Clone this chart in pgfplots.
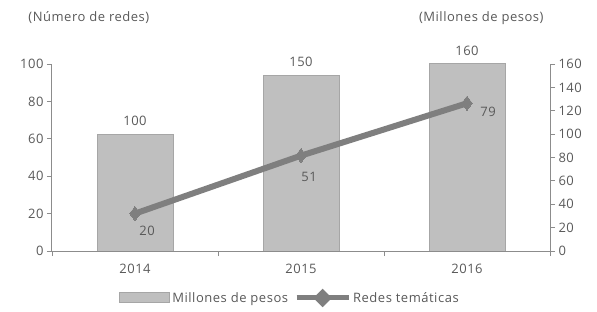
\documentclass[border=0pt]{standalone}
\usepackage{pgfplots}
\pgfplotsset{compat=1.18}
\usepackage{fontspec}
\setmainfont{Open Sans}[LetterSpace=4]
\definecolor{txt}{HTML}{595959}
\definecolor{barfill}{HTML}{BFBFBF}
\definecolor{bardraw}{HTML}{A6A6A6}
\definecolor{linec}{HTML}{7F7F7F}
\definecolor{axc}{HTML}{8C8C8C}
\pgfplotstableread{
x y dx dy
0 20 12 -17
1 51 8 -21
2 79 21 -9
}\redes
\begin{document}
\begin{tikzpicture}[x=1pt,y=1pt]
\path[use as bounding box] (-52,-60) rectangle (545,251);
\pgfplotsset{every axis/.append style={
  scale only axis, width=498pt, height=187pt,
  xmin=-0.5, xmax=2.5,
  font=\fontsize{13}{15}\selectfont,
  /pgf/number format/assume math mode=true,
  tick align=outside,
  major tick length=5pt,
  tick style={axc, line width=0.8pt},
  axis line style={axc, line width=1pt, -},
  tick label style={txt},
}}
\begin{axis}[
  axis y line*=right, axis x line=none,
  ymin=0, ymax=160, ytick={0,20,...,160},
  ybar, bar width=76pt,
]
\addplot[fill=barfill, draw=bardraw, line width=1pt,
  nodes near coords, nodes near coords style={txt, yshift=5pt}]
  coordinates {(0,100) (1,150) (2,160)};
\end{axis}
\begin{axis}[
  axis y line*=left, axis x line*=bottom,
  ymin=0, ymax=100, ytick={0,20,...,100},
  xtick={0,1,2}, xticklabels={2014,2015,2016},
  major x tick style={draw=none},
  minor xtick={-0.5,0.5,1.5,2.5},
  minor tick length=5pt,
  minor x tick style={axc, line width=0.8pt},
  xticklabel style={yshift=-5pt},
  clip=false,
  legend style={at={(axis description cs:0.478,-0.251)}, anchor=center,
    draw=none, legend columns=2, text=txt,
    font=\fontsize{13}{15}\selectfont,
    /tikz/every even column/.append style={column sep=4pt},
    nodes={inner sep=2pt}},
]
\addlegendimage{legend image code/.code={\draw[fill=barfill,draw=bardraw,line width=1pt] (0pt,-5pt) rectangle (50pt,5pt);}}
\addlegendentry{Millones de pesos}
\addplot[linec, line width=6pt, mark=diamond*, mark size=7pt,
  mark options={solid, fill=linec, draw=linec, line width=0pt},
  visualization depends on={\thisrow{dx}\as\dxx},
  visualization depends on={\thisrow{dy}\as\dyy},
  nodes near coords,
  nodes near coords style={txt, anchor=center, xshift=\dxx pt, yshift=\dyy pt},
  legend image code/.code={\draw[linec,line width=5pt](0pt,0pt)--(52pt,0pt); \fill[linec] (26pt,5pt)--(31pt,0pt)--(26pt,-5pt)--(21pt,0pt)--cycle;}]
  table[x=x,y=y] {\redes};
\addlegendentry{Redes temáticas}
\node[txt, font=\fontsize{13}{15}\selectfont] at (axis description cs:0.074,1.246) {(Número de redes)};
\node[txt, font=\fontsize{13}{15}\selectfont] at (axis description cs:0.862,1.246) {(Millones de pesos)};
\end{axis}
\end{tikzpicture}
\end{document}
